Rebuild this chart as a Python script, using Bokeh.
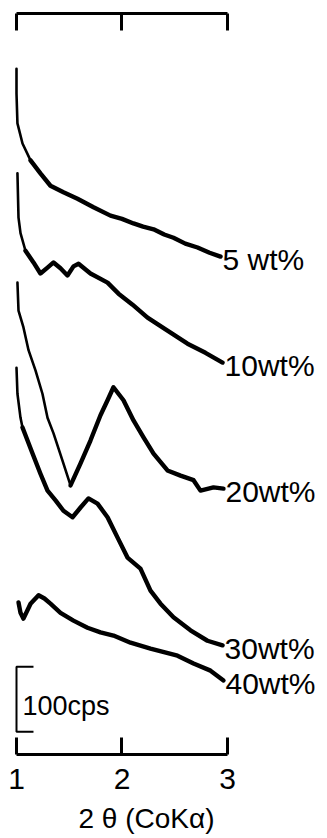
from bokeh.plotting import figure
from bokeh.models import Range1d, LinearAxis, FixedTicker
from bokeh.core.properties import value
from bokeh.embed import file_html
from bokeh.resources import INLINE

# 2-theta (degrees, CoKa) and intensity (cps, curves vertically offset)
x5 = [1.000, 1.000, 1.009, 1.057, 1.133, 1.227, 1.322, 1.445, 1.578, 1.730, 1.891, 2.000, 2.109, 2.200, 2.299, 2.400, 2.488, 2.600, 2.716, 2.830, 2.934]
y5 = [1055, 1017, 971, 940, 914, 894, 875, 865, 855, 842, 829, 824, 817, 812, 808, 800, 795, 786, 780, 772, 766]

x10 = [1.009, 1.019, 1.038, 1.085, 1.161, 1.227, 1.294, 1.351, 1.417, 1.483, 1.540, 1.588, 1.701, 1.863, 1.967, 2.100, 2.242, 2.431, 2.621, 2.791, 2.953]
y10 = [894, 826, 802, 775, 757, 740, 749, 757, 748, 737, 751, 755, 740, 726, 709, 692, 672, 652, 632, 618, 603]

x20 = [1.009, 1.019, 1.066, 1.114, 1.180, 1.246, 1.294, 1.351, 1.436, 1.512, 1.607, 1.701, 1.796, 1.863, 1.919, 2.014, 2.109, 2.204, 2.299, 2.431, 2.555, 2.678, 2.744, 2.867, 2.962]
y20 = [726, 683, 657, 622, 591, 555, 518, 494, 452, 414, 448, 483, 522, 545, 565, 545, 514, 488, 463, 437, 429, 422, 406, 411, 409]

x30 = [1.000, 1.009, 1.038, 1.057, 1.152, 1.227, 1.294, 1.370, 1.445, 1.531, 1.607, 1.682, 1.768, 1.863, 1.957, 2.052, 2.175, 2.270, 2.365, 2.488, 2.649, 2.810, 2.953]
y30 = [595, 555, 518, 503, 463, 432, 406, 391, 375, 365, 380, 394, 386, 365, 334, 303, 286, 252, 232, 211, 191, 175, 168]

x40 = [1.019, 1.038, 1.066, 1.133, 1.209, 1.265, 1.322, 1.417, 1.540, 1.673, 1.796, 1.919, 2.081, 2.270, 2.526, 2.678, 2.839, 2.962]
y40 = [234, 218, 209, 232, 245, 240, 232, 218, 206, 195, 188, 183, 172, 163, 152, 140, 129, 114]

series_x = [x5, x10, x20, x30, x40]
series_y = [y5, y10, y20, y30, y40]
series_labels = ["5 wt%", "10wt%", "20wt%", "30wt%", "40wt%"]

x_ticks = [1, 2, 3]
scale_base = 35
scale_cps = 100
scale_label = "100cps"
x_title = "2 θ (CoKα)"

# styling: pen trace is thinner on the fast (steep) start of each scan
thick_from = [4, 3, 9, 3, 0]

FONT = "Liberation Sans"
Y_BOTTOM_AXIS = 0
Y_TOP_AXIS = 1140

p = figure(width=327, height=838, output_backend="svg", toolbar_location=None,
           x_range=Range1d(0.84834, 3.94787), y_range=Range1d(-129.23, 1160),
           x_axis_type=None, y_axis_type=None,
           min_border_left=0, min_border_right=0, min_border_top=0, min_border_bottom=0)
p.outline_line_color = None
p.grid.visible = False
p.background_fill_color = "white"
p.border_fill_color = "white"

for xs, ys, k in zip(series_x, series_y, thick_from):
    p.line(xs, ys, line_color="black", line_width=2.6, line_join="round", line_cap="round")
    p.line(xs[k:], ys[k:], line_color="black", line_width=4.4, line_join="round", line_cap="round")

p.text(x=[xs[-1] for xs in series_x], y=[ys[-1] for ys in series_y], text=series_labels,
       x_offset=2, y_offset=3, text_font=value(FONT), text_font_size="30px",
       text_baseline="middle", text_align="left", text_color="black")

# scale bar
sb_x = [1.161, 1.0, 1.0, 1.161]
sb_y = [scale_base + scale_cps, scale_base + scale_cps, scale_base, scale_base]
p.line(sb_x, sb_y, line_color="black", line_width=2)
p.text(x=[1.057], y=[scale_base + scale_cps * 0.4], text=[scale_label],
       text_font=value(FONT), text_font_size="27px", text_baseline="middle", text_align="left")

bottom = LinearAxis(ticker=FixedTicker(ticks=x_ticks), bounds=(1, 3), fixed_location=Y_BOTTOM_AXIS)
bottom.axis_line_width = 3
bottom.major_tick_line_width = 3
bottom.major_tick_in = 17
bottom.major_tick_out = 0
bottom.minor_tick_line_color = None
bottom.major_label_text_font = FONT
bottom.major_label_text_font_size = "30px"
bottom.major_label_text_color = "black"
bottom.major_label_standoff = 14
p.add_layout(bottom, "below")

top = LinearAxis(ticker=FixedTicker(ticks=x_ticks), bounds=(1, 3), fixed_location=Y_TOP_AXIS)
top.axis_line_width = 3
top.major_tick_line_width = 3
top.major_tick_in = 17
top.major_tick_out = 0
top.minor_tick_line_color = None
top.major_label_text_color = None
top.major_label_standoff = 0
p.add_layout(top, "above")

p.text(x=[2.232], y=[-98.5], text=[x_title], text_font=value(FONT), text_font_size="28px",
       text_align="center", text_baseline="middle", text_color="black")

open("out.html", "w").write(file_html(p, INLINE))
